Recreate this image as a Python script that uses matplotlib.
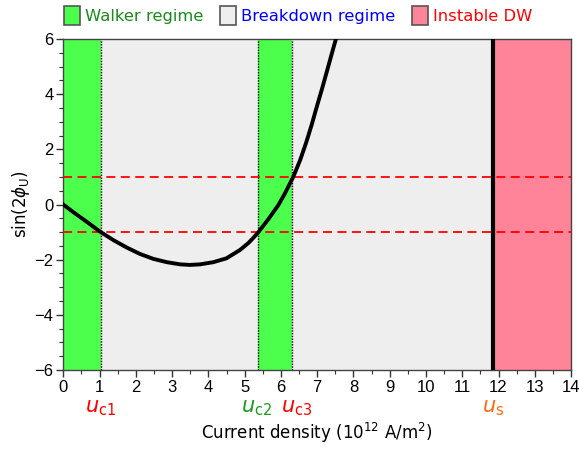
import matplotlib
matplotlib.use('Agg')
import matplotlib.pyplot as plt
from matplotlib.patches import Patch
from matplotlib.ticker import MultipleLocator

# Data
u = [0, 0.28, 0.64, 1.01, 1.38, 1.75, 2.11, 2.48, 2.85, 3.22, 3.49, 3.77, 4.14, 4.5, 4.87,
     5.1, 5.24, 5.38, 5.65, 5.93, 6.11, 6.34, 6.53, 6.7, 6.85, 6.99, 7.13, 7.26, 7.39, 7.52]
sin2phi = [0, -0.28, -0.62, -0.98, -1.29, -1.56, -1.79, -1.97, -2.09, -2.17, -2.19, -2.17, -2.09,
           -1.95, -1.65, -1.40, -1.21, -1.0, -0.54, -0.02, 0.40, 1.0, 1.61, 2.26, 2.9, 3.55,
           4.18, 4.79, 5.41, 6.02]

uc1, uc2, uc3, us = 1.03, 5.38, 6.31, 11.84
x_min, x_max = 0, 14
y_min, y_max = -6, 6
thresholds = [-1, 1]

legend_labels = ['Walker regime', 'Breakdown regime', 'Instable DW']
crit_labels = [r'$u_{\mathrm{c1}}$', r'$u_{\mathrm{c2}}$', r'$u_{\mathrm{c3}}$', r'$u_{\mathrm{s}}$']
crit_values = [uc1, uc2, uc3, us]

green = '#4cff4c'
grey = '#eeeeee'
pink = '#ff8399'

plt.rcParams['mathtext.fontset'] = 'dejavusans'

fig = plt.figure(figsize=(5.79, 4.49), dpi=100)
ax = fig.add_axes([0.1093, 0.176, 0.877, 0.737])

ax.axvspan(x_min, x_max, color=grey, zorder=0, lw=0)
ax.axvspan(x_min, uc1, color=green, zorder=1, lw=0)
ax.axvspan(uc2, uc3, color=green, zorder=1, lw=0)
ax.axvspan(us, x_max, color=pink, zorder=1, lw=0)
for x in (uc1, uc2, uc3):
    ax.axvline(x, color='k', ls=(0, (1, 1)), lw=1.0, zorder=2)
ax.axvline(us, color='k', lw=3, zorder=3)
for y in thresholds:
    ax.axhline(y, color='red', ls=(0, (5, 3)), lw=1.3, zorder=3)
ax.plot(u, sin2phi, color='k', lw=2.8, zorder=4, solid_joinstyle='round')

ax.set_xlim(x_min, x_max)
ax.set_ylim(y_min, y_max)
ax.xaxis.set_major_locator(MultipleLocator(1))
ax.xaxis.set_minor_locator(MultipleLocator(0.5))
ax.yaxis.set_major_locator(MultipleLocator(2))
ax.yaxis.set_minor_locator(MultipleLocator(0.5))
ax.tick_params(which='both', direction='out', color='#333333')
ax.tick_params(which='major', length=5, width=1, labelsize=12, pad=2)
ax.tick_params(which='minor', length=3, width=0.8)
for lab in ax.get_xticklabels() + ax.get_yticklabels():
    lab.set_fontfamily('Liberation Sans')
for sp in ax.spines.values():
    sp.set_color('#444444')
    sp.set_linewidth(1.0)

ax.set_ylabel(r'sin(2$\phi_{\mathrm{U}}$)', fontsize=12, labelpad=2)
ax.set_xlabel(r'Current density (10$^{12}$ A/m$^{2}$)', fontsize=12, labelpad=19)

crit_colors = ['red', '#1a9a1a', 'red', '#ff6a10']
crit_offsets = [0, -0.05, 0.12, 0]
for val, lab, col, off in zip(crit_values, crit_labels, crit_colors, crit_offsets):
    ax.text(val + off, -0.085, lab, transform=ax.get_xaxis_transform(), ha='center', va='top',
            fontsize=15, color=col)

handles = [Patch(facecolor=c, edgecolor='#555555', lw=1.2) for c in (green, grey, pink)]
leg = fig.legend(handles, legend_labels, ncol=3, loc='upper left', bbox_to_anchor=(0.085, 1.02),
                 frameon=False, fontsize=11.8, handlelength=1.0, handleheight=1.4,
                 handletextpad=0.3, columnspacing=1.0)
for t, c in zip(leg.get_texts(), ['#1a8a1a', 'blue', 'red']):
    t.set_color(c)

fig.savefig('out.png', dpi=100)
